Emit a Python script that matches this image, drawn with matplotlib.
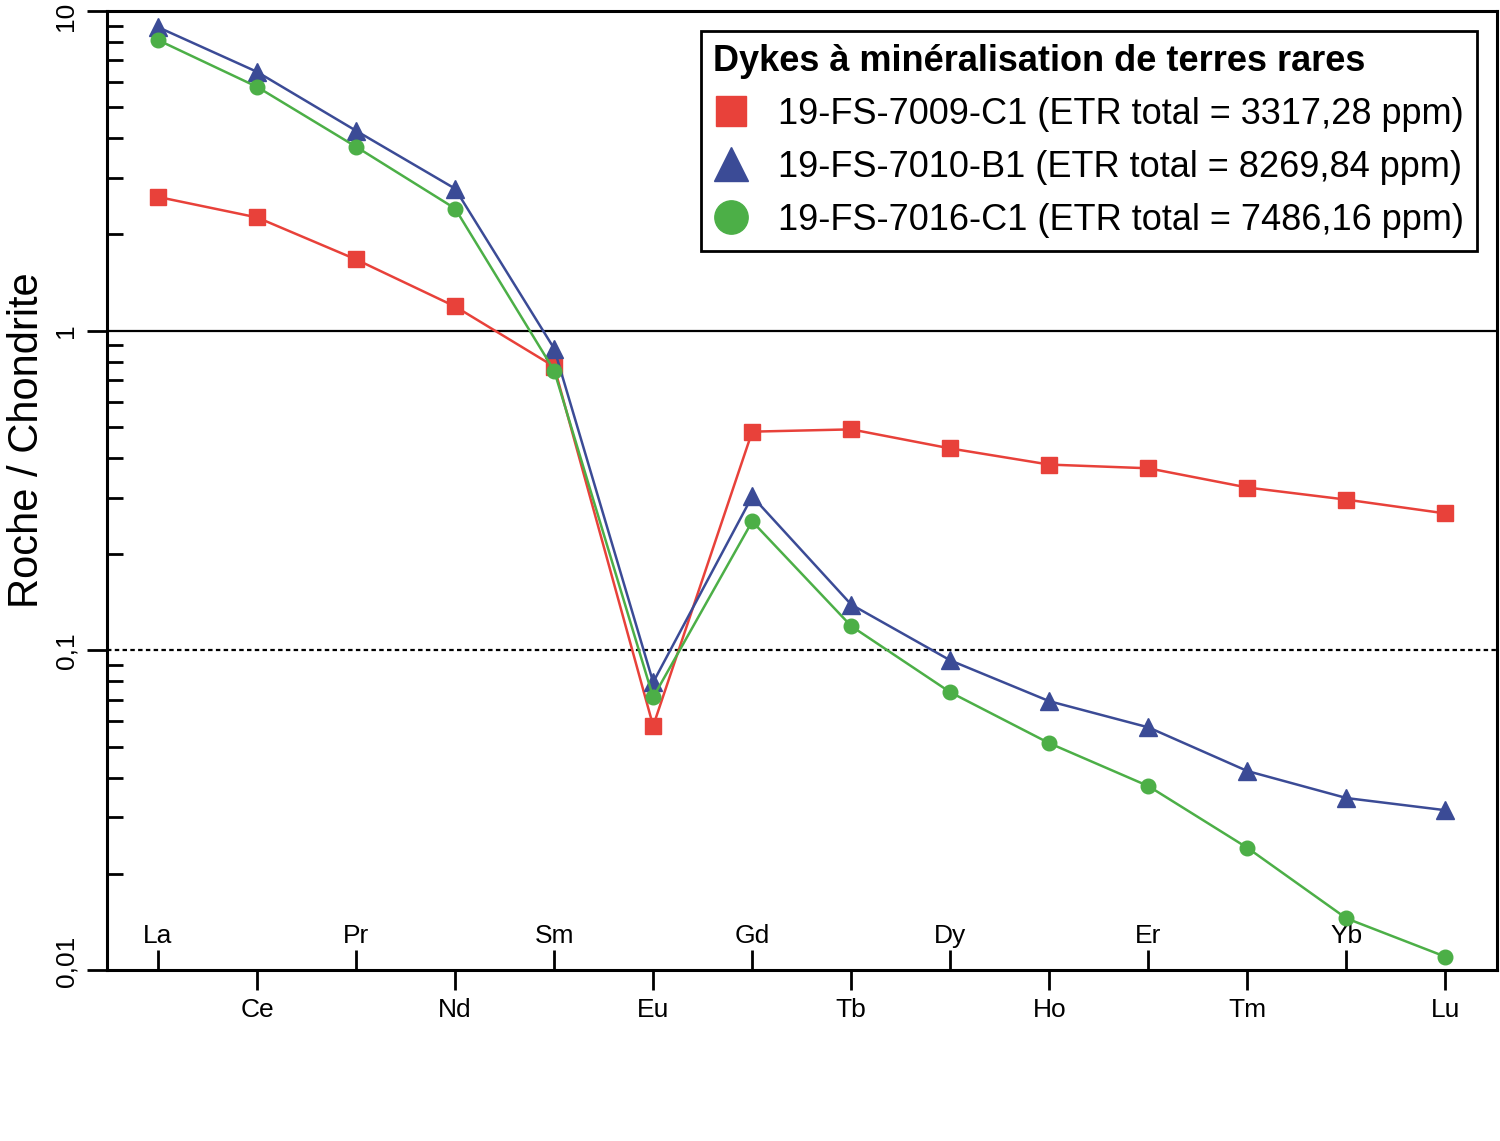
import matplotlib
matplotlib.use('Agg')
import matplotlib.pyplot as plt
from matplotlib.lines import Line2D
from matplotlib.ticker import FixedLocator, LogLocator, NullFormatter
from matplotlib.transforms import ScaledTranslation

plt.rcParams['font.family'] = ['Liberation Sans', 'DejaVu Sans']

# Terres rares (ordre du diagramme)
elements = ['La', 'Ce', 'Pr', 'Nd', 'Sm', 'Eu', 'Gd',
            'Tb', 'Dy', 'Ho', 'Er', 'Tm', 'Yb', 'Lu']

# Valeurs normalisees a la chondrite
fs_7009_c1 = [2.62, 2.26, 1.67, 1.19, 0.772, 0.058, 0.483,
              0.491, 0.428, 0.381, 0.371, 0.323, 0.296, 0.268]
fs_7010_b1 = [8.9, 6.45, 4.22, 2.78, 0.879, 0.0794, 0.303,
              0.139, 0.093, 0.0693, 0.0574, 0.0419, 0.0345, 0.0316]
fs_7016_c1 = [8.11, 5.79, 3.76, 2.41, 0.75, 0.0713, 0.253,
              0.119, 0.0739, 0.0512, 0.0376, 0.0241, 0.0145, 0.011]

labels = [
    '19-FS-7009-C1 (ETR total = 3317,28 ppm)',
    '19-FS-7010-B1 (ETR total = 8269,84 ppm)',
    '19-FS-7016-C1 (ETR total = 7486,16 ppm)',
]
legend_title = 'Dykes à minéralisation de terres rares'

y_ticks = [0.01, 0.1, 1, 10]
y_tick_labels = ['0,01', '0,1', '1', '10']

rouge = '#e8413a'
bleu = '#3b4b96'
vert = '#4caf47'

fig = plt.figure(figsize=(15, 11.41), dpi=100)
ax = fig.add_axes([0.0713, 0.1499, 0.9267, 0.8405])

x = list(range(len(elements)))

# Lignes de reference
ax.axhline(1, color='black', lw=1.6, zorder=1)
ax.axhline(0.1, color='black', lw=1.6, ls=(0, (2, 1.5)), zorder=1)

ax.plot(x, fs_7009_c1, color=rouge, lw=1.8, marker='s', ms=11, mec=rouge, zorder=3)
ax.plot(x, fs_7010_b1, color=bleu, lw=1.8, marker='^', ms=13, mec=bleu, zorder=4)
ax.plot(x, fs_7016_c1, color=vert, lw=1.8, marker='o', ms=10.5, mec=vert, zorder=5)

ax.set_yscale('log')
ax.set_ylim(0.01, 10)
ax.set_xlim(-0.515, 13.52)

# Axe Y : graduations majeures vers l'exterieur, mineures vers l'interieur
ax.yaxis.set_major_locator(FixedLocator(y_ticks))
ax.set_yticklabels(y_tick_labels, rotation=90, va='center')
ax.yaxis.set_minor_locator(LogLocator(base=10, subs=range(2, 10)))
ax.yaxis.set_minor_formatter(NullFormatter())

# Axe X : elements alternes, dessous (exterieur) et dessus (interieur)
ax.set_xticks(x[1::2])
ax.set_xticklabels(elements[1::2])
ax.set_xticks(x[0::2], minor=True)
ax.set_xticklabels(elements[0::2], minor=True)

ax.tick_params(axis='y', which='major', direction='out', length=14.5,
               width=2, labelsize=19, pad=6)
ax.tick_params(axis='y', which='minor', direction='in', length=11.5, width=2)
ax.tick_params(axis='x', which='major', direction='out', length=14.5,
               width=2, labelsize=19, pad=6)
ax.tick_params(axis='x', which='minor', direction='in', length=14.5,
               width=2, labelsize=19, pad=-33)

# Petits decalages des etiquettes extremes de l'axe Y
y_major = ax.yaxis.get_major_ticks()
for tick, dy in ((y_major[0], 6), (y_major[-1], -4)):
    lab = tick.label1
    lab.set_transform(lab.get_transform()
                      + ScaledTranslation(0, dy / 72, fig.dpi_scale_trans))

for s in ax.spines.values():
    s.set_linewidth(2.2)

ax.set_ylabel('Roche / Chondrite', fontsize=30)
ax.yaxis.set_label_coords(-0.043, 0.552)

handles = [
    Line2D([], [], ls='none', marker='s', ms=22, color=rouge),
    Line2D([], [], ls='none', marker='^', ms=24, color=bleu),
    Line2D([], [], ls='none', marker='o', ms=24, color=vert),
]
leg = ax.legend(handles, labels, title=legend_title, loc='upper right',
                bbox_to_anchor=(0.9856, 0.979), borderaxespad=0,
                fontsize=26, title_fontproperties={'weight': 'bold', 'size': 26},
                fancybox=False, framealpha=1, edgecolor='black',
                handlelength=1.0, handletextpad=0.8, labelspacing=0.5,
                borderpad=0.35, alignment='left')
leg.get_frame().set_linewidth(2)

plt.savefig('out.png', dpi=100)
plt.close()
